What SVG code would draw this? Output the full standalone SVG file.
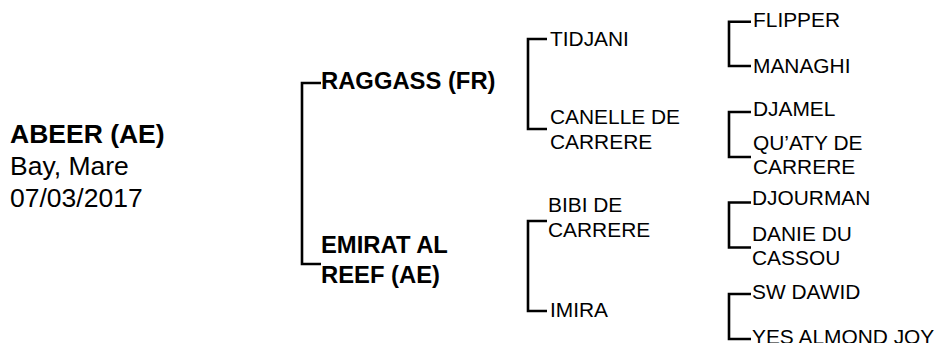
<svg xmlns="http://www.w3.org/2000/svg" width="937" height="343" viewBox="0 0 937 343">
<style>
text{font-family:"Liberation Sans",Arial,sans-serif;fill:#000}
.root{font-size:26.5px}
.b{font-weight:bold}
.g1{font-size:23.8px;font-weight:bold}
.g{font-size:20.9px}
.c{fill:none;stroke:#000;stroke-width:2.6}
</style>
<rect width="937" height="343" fill="#fff"/>
<g id="connectors">
<path class="c" d="M321,83 H302 V264 H321"/>
<path class="c" d="M547,39 H528 V129 H547"/>
<path class="c" d="M547,221 H528 V311 H547"/>
<path class="c" d="M751,21.7 H729 V66 H751"/>
<path class="c" d="M751,112 H729 V157 H751"/>
<path class="c" d="M751,202.5 H729 V247.5 H751"/>
<path class="c" d="M751,294 H729 V339 H751"/>
</g>
<g id="node-abeer">
<text class="root b" x="10" y="143">ABEER (AE)</text>
<text class="root" x="10" y="175">Bay, Mare</text>
<text class="root" x="10" y="207">07/03/2017</text>
</g>
<g id="node-raggass"><text class="g1" x="321" y="89">RAGGASS (FR)</text></g>
<g id="node-emirat"><text class="g1" x="321" y="253">EMIRAT AL</text><text class="g1" x="321" y="283">REEF (AE)</text></g>
<g id="node-tidjani"><text class="g" x="550" y="46">TIDJANI</text></g>
<g id="node-canelle"><text class="g" x="550" y="124">CANELLE DE</text><text class="g" x="550" y="149">CARRERE</text></g>
<g id="node-bibi"><text class="g" x="548" y="212">BIBI DE</text><text class="g" x="548" y="237">CARRERE</text></g>
<g id="node-imira"><text class="g" x="550" y="317">IMIRA</text></g>
<g id="node-flipper"><text class="g" x="753" y="27">FLIPPER</text></g>
<g id="node-managhi"><text class="g" x="753" y="72.5">MANAGHI</text></g>
<g id="node-djamel"><text class="g" x="753" y="116">DJAMEL</text></g>
<g id="node-quaty"><text class="g" x="753" y="150">QU’ATY DE</text><text class="g" x="753" y="174">CARRERE</text></g>
<g id="node-djourman"><text class="g" x="752" y="205">DJOURMAN</text></g>
<g id="node-danie"><text class="g" x="752" y="240.5">DANIE DU</text><text class="g" x="752" y="265">CASSOU</text></g>
<g id="node-swdawid"><text class="g" x="752" y="298.5">SW DAWID</text></g>
<g id="node-yes"><text class="g" x="752" y="344">YES ALMOND JOY</text></g>
</svg>
